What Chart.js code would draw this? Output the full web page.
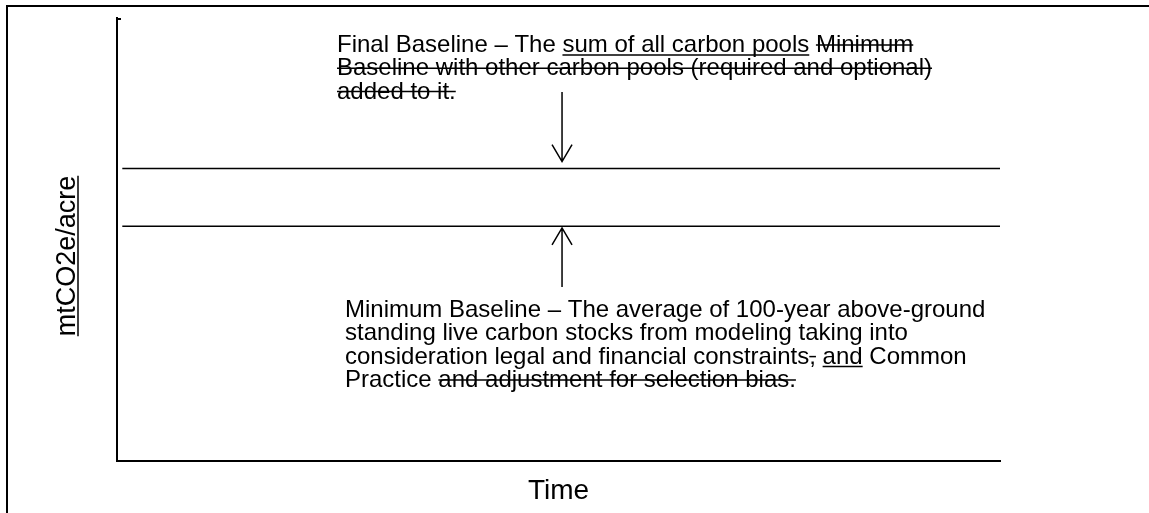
<!DOCTYPE html>
<html>
<head>
<meta charset="utf-8">
<script src="https://cdn.jsdelivr.net/npm/chart.js@4"></script>
<style>
  html, body { margin: 0; padding: 0; background: #fff; }
  #wrap { position: relative; width: 1149px; height: 513px; }
</style>
</head>
<body>
<div id="wrap"><canvas id="baselineChart" width="1149" height="513"></canvas></div>
<script>
// values (scale 0-100 on both axes, no units shown)
const timeRange = [0.6, 100];
const finalBaseline = [66, 66];
const minimumBaseline = [53, 53];

// arrows: x position and [start, tip] in y units
const arrowX = 50.4;
const downArrow = [83.3, 67.6];
const upArrow = [39.3, 52.6];

const yTitle = 'mtCO2e/acre';
const xTitle = 'Time';

// text runs: '' plain, 'u' underlined, 's' struck through
const finalNote = [
  [['Final Baseline \u2013 The ', ''], ['sum of all carbon pools', 'u'], [' ', ''], ['Minimum', 's']],
  [['Baseline with other carbon pools (required and optional)', 's']],
  [['added to it.', 's']]
];
const minimumNote = [
  [['Minimum Baseline \u2013 The average of 100-year above-ground', '']],
  [['standing live carbon stocks from modeling taking into', '']],
  [['consideration legal and financial constraints', ''], [',', 's'], [' ', ''], ['and', 'u'], [' Common', '']],
  [['Practice ', ''], ['and adjustment for selection bias.', 's']]
];

const FONT = '"Liberation Sans", Arial, sans-serif';
Chart.defaults.font.family = FONT;
Chart.defaults.color = '#000';

// draws one line of mixed runs
function drawRuns(ctx, x, y, runs, size) {
  ctx.font = size + 'px ' + FONT;
  ctx.textBaseline = 'alphabetic';
  ctx.textAlign = 'left';
  ctx.lineWidth = 1.5;
  let cx = x;
  runs.forEach(function(r) {
    const w = ctx.measureText(r[0]).width;
    ctx.fillText(r[0], cx, y);
    if (r[1] === 'u') {
      ctx.beginPath();
      ctx.moveTo(cx, y + 3);
      ctx.lineTo(cx + w, y + 3);
      ctx.stroke();
    } else if (r[1] === 's') {
      ctx.beginPath();
      ctx.moveTo(cx, y - 7);
      ctx.lineTo(cx + w, y - 7);
      ctx.stroke();
    }
    cx += w;
  });
}

function drawArrow(ctx, x, y0, y1) {
  const dir = y1 > y0 ? 1 : -1;
  ctx.beginPath();
  ctx.moveTo(x, y0);
  ctx.lineTo(x, y1);
  ctx.moveTo(x - 10, y1 - dir * 17);
  ctx.lineTo(x, y1);
  ctx.lineTo(x + 10, y1 - dir * 17);
  ctx.stroke();
}

const sketchPlugin = {
  id: 'sketch',
  beforeDraw(chart) {
    const ctx = chart.ctx;
    ctx.save();
    ctx.strokeStyle = '#000';
    ctx.lineWidth = 2;
    ctx.strokeRect(7, 6, 2000, 2000);
    ctx.restore();
  },
  afterDraw(chart) {
    const ctx = chart.ctx;
    const xs = chart.scales.x;
    const ys = chart.scales.y;
    const area = chart.chartArea;
    ctx.save();
    ctx.strokeStyle = '#000';
    ctx.fillStyle = '#000';

    // little tick at the top of the y axis
    ctx.lineWidth = 2;
    ctx.beginPath();
    ctx.moveTo(area.left, area.top + 1);
    ctx.lineTo(area.left + 4, area.top + 1);
    ctx.stroke();

    // arrows
    ctx.lineWidth = 1.5;
    const ax = xs.getPixelForValue(arrowX);
    drawArrow(ctx, ax, ys.getPixelForValue(downArrow[0]), ys.getPixelForValue(downArrow[1]));
    drawArrow(ctx, ax, ys.getPixelForValue(upArrow[0]), ys.getPixelForValue(upArrow[1]));

    // notes
    finalNote.forEach(function(line, i) { drawRuns(ctx, 337, 52 + i * 23.3, line, 24); });
    minimumNote.forEach(function(line, i) { drawRuns(ctx, 345, 317 + i * 23.3, line, 24); });

    // axis titles
    ctx.font = '28px ' + FONT;
    const xw = ctx.measureText(xTitle).width;
    drawRuns(ctx, (area.left + area.right) / 2 - xw / 2, 499, [[xTitle, '']], 28);
    ctx.translate(75, 256);
    ctx.rotate(-Math.PI / 2);
    ctx.font = '27px ' + FONT;
    const tw = ctx.measureText(yTitle).width;
    drawRuns(ctx, -tw / 2, 0, [[yTitle, 'u']], 27);
    ctx.restore();
  }
};

const ctx = document.getElementById('baselineChart').getContext('2d');
const chart = new Chart(ctx, {
  type: 'line',
  data: {
    datasets: [
      {
        label: 'Final Baseline',
        data: timeRange.map((t, i) => ({ x: t, y: finalBaseline[i] })),
        borderColor: '#000',
        borderWidth: 1.5,
        pointRadius: 0,
        fill: false
      },
      {
        label: 'Minimum Baseline',
        data: timeRange.map((t, i) => ({ x: t, y: minimumBaseline[i] })),
        borderColor: '#000',
        borderWidth: 1.5,
        pointRadius: 0,
        fill: false
      }
    ]
  },
  options: {
    responsive: false,
    animation: false,
    events: [],
    layout: { padding: { left: 117, top: 18, right: 149, bottom: 52 } },
    plugins: {
      legend: { display: false },
      tooltip: { enabled: false }
    },
    scales: {
      x: {
        type: 'linear',
        min: 0,
        max: 100,
        ticks: { display: false },
        grid: { display: false, drawTicks: false },
        border: { display: true, color: '#000', width: 2 }
      },
      y: {
        min: 0,
        max: 100,
        ticks: { display: false },
        grid: { display: false, drawTicks: false },
        border: { display: true, color: '#000', width: 2 }
      }
    }
  },
  plugins: [sketchPlugin]
});
</script>
</body>
</html>
